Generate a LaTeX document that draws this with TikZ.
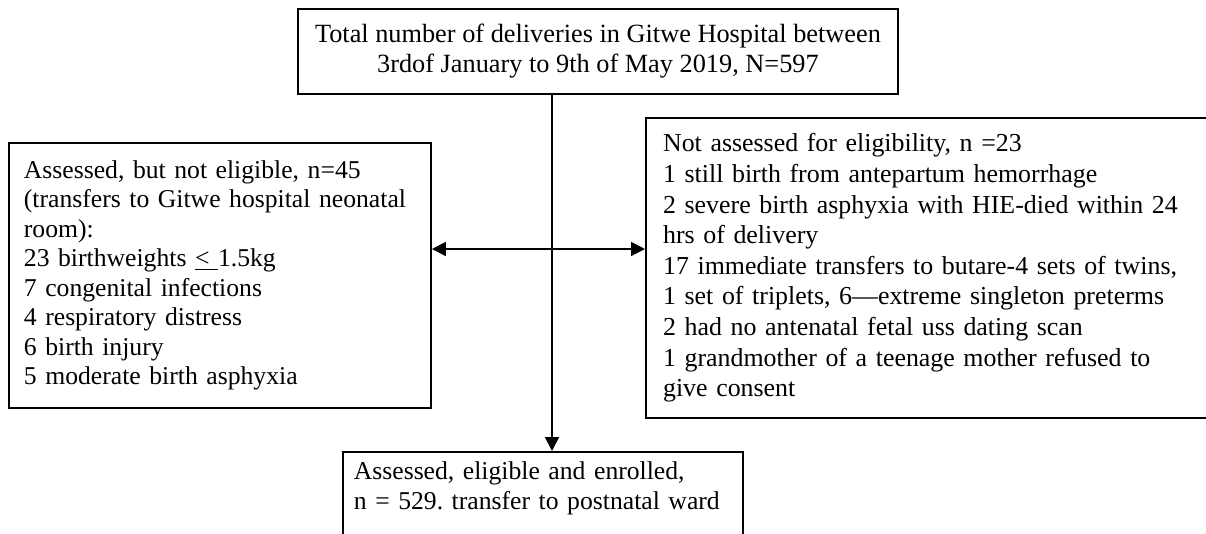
\documentclass[tikz,border=0pt]{standalone}
\usepackage{fontspec}
\setmainfont{Liberation Serif}
\usepackage{tikz}
\usetikzlibrary{calc,arrows.meta}
\newcommand{\pxl}{0.4675pt}
\tikzset{
	flowbox/.style={draw,line width=0.9pt,anchor=north west,inner ysep=0pt,align=left,font=\fontsize{12}{13.8}\selectfont\frenchspacing},
	oneway/.style={line width=0.9pt,-{Triangle[length=6.5pt,width=6.5pt]}},
	twoway/.style={line width=0.9pt,{Triangle[length=6.5pt,width=6.5pt]}-{Triangle[length=6.5pt,width=6.5pt]}}
}

\begin{document}
\begin{tikzpicture}[x=\pxl,y=-\pxl]
\useasboundingbox (0,0) rectangle (1206,533);
\clip (0,0) rectangle (1206,533);
\begin{scope}[every node/.style=flowbox]
\node[align=center,inner xsep=0pt,minimum width=280.5pt,minimum height=39.7pt,font=\fontsize{12.3}{14}\selectfont\frenchspacing] (total) at (297,8)
	{Total number of deliveries in Gitwe Hospital between\\ 3rdof January to 9th of May 2019, N=597};
\node[inner xsep=7pt,text width=183.3pt,minimum height=123.9pt] (noteligible) at (8,142)
	{Assessed, but not eligible, n=45\\
	(transfers to Gitwe hospital neonatal\\
	room):\\
	23 birthweights \underline{<~}1.5kg\\
	7 congenital infections\\
	4 respiratory distress\\
	6 birth injury\\
	5 moderate birth asphyxia};
\node[inner xsep=8pt,text width=258pt,minimum height=140.3pt,font=\fontsize{12.1}{14.3}\selectfont\frenchspacing] (notassessed) at (645,117)
	{Not assessed for eligibility, n =23\\
	1 still birth from antepartum hemorrhage\\
	2 severe birth asphyxia with HIE-died within 24\\
	hrs of delivery\\
	17 immediate transfers to butare-4 sets of twins,\\
	1 set of triplets, 6---extreme singleton preterms\\
	2 had no antenatal fetal uss dating scan\\
	1 grandmother of a teenage mother refused to\\
	give consent};
\node[inner xsep=5.1pt,inner ysep=4.7pt,text width=176.8pt] (enrolled) at (342,451)
	{Assessed, eligible and enrolled,\\
	n = 529. transfer to postnatal ward\\
	\rule{0pt}{30pt}};
\end{scope}
%
\coordinate (spine) at (552,0);
\coordinate (hub) at (552,249);
\draw[oneway] (total.south -| spine) -- (enrolled.north -| spine);
\draw[twoway] (noteligible.east |- hub) -- (notassessed.west |- hub);
\end{tikzpicture}
\end{document}
